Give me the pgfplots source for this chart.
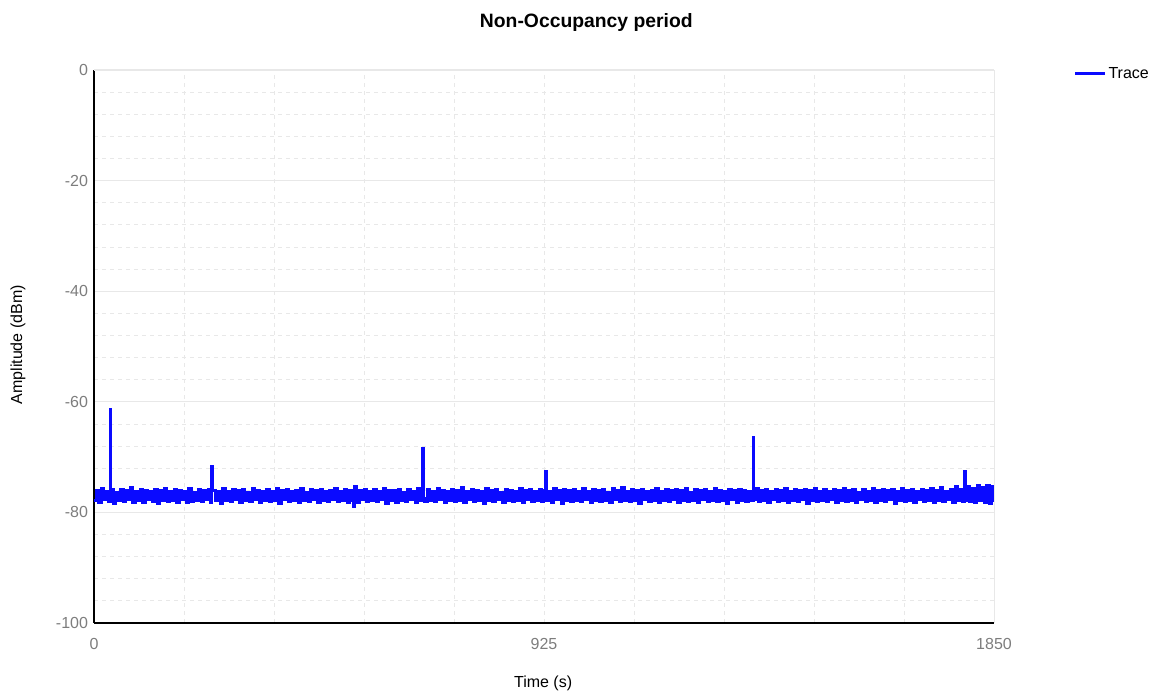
\documentclass[border=0pt]{standalone}
\usepackage{fontspec}
\setmainfont{Liberation Sans}
\usepackage{pgfplots}
\pgfplotsset{compat=1.18}
\definecolor{tickgray}{RGB}{125,125,125}
\definecolor{gridgray}{RGB}{232,232,232}
\definecolor{traceblue}{RGB}{10,10,255}
\begin{document}
\begin{tikzpicture}
\begin{axis}[
  scale only axis,
  width=675pt, height=414.75pt,
  xmin=0, xmax=1850, ymin=-100, ymax=0,
  axis lines*=left,
  axis line style={black, line width=1.1pt},
  xtick={0,925,1850},
  minor xtick={185,370,555,740,1110,1295,1480,1665},
  ytick={-100,-80,-60,-40,-20,0},
  minor y tick num=4,
  major tick length=0pt, minor tick length=0pt,
  grid=both,
  major x grid style={gridgray, dashed, line width=0.6pt},
  minor x grid style={gridgray, dashed, line width=0.6pt},
  major y grid style={gridgray, line width=0.8pt},
  minor y grid style={gridgray, dashed, line width=0.6pt},
  /pgf/number format/assume math mode=true,
  /pgf/number format/.cd, 1000 sep={}, /pgfplots/.cd,
  ticklabel style={font=\fontsize{12}{14}\selectfont, text=tickgray},
  xticklabel style={yshift=-8pt},
  yticklabel style={xshift=-1pt},
  xlabel={Time (s)}, ylabel={Amplitude (dBm)},
  every axis x label/.style={at={(rel axis cs:0.499,0)}, yshift=-45pt, anchor=center, font=\fontsize{12}{14}\selectfont},
  every axis y label/.style={at={(rel axis cs:0,0.503)}, xshift=-57pt, rotate=90, anchor=center, font=\fontsize{12}{14}\selectfont},
  legend style={at={(1.084,1.015)}, anchor=north west, draw=none, fill=none, font=\fontsize{12}{14}\selectfont},
  legend cell align=left,
  legend image code/.code={\draw[traceblue, line width=2pt] (0pt,0pt) -- (22pt,0pt);},
  clip=false,
]
\addplot[traceblue, line width=2.2pt, const plot] table[row sep=\\] {
x y\\
0 -77.9\\ 5 -76.0\\ 10 -78.2\\ 15 -75.7\\ 20 -77.7\\ 25 -76.2\\ 30 -78.0\\ 33 -61.3\\ 34 -75.9\\ 40 -78.4\\
45 -76.4\\ 50 -77.8\\ 55 -75.8\\ 60 -78.1\\ 65 -76.1\\ 70 -77.6\\ 75 -75.5\\ 80 -78.3\\ 85 -76.3\\ 90 -77.9\\
95 -75.9\\ 100 -78.2\\ 105 -76.0\\ 110 -77.7\\ 115 -76.2\\ 120 -78.0\\ 125 -75.8\\ 130 -78.4\\ 135 -76.1\\ 140 -77.8\\
145 -75.6\\ 150 -78.1\\ 155 -76.3\\ 160 -77.9\\ 165 -75.9\\ 170 -78.2\\ 175 -76.0\\ 180 -77.6\\ 185 -76.2\\ 190 -78.3\\
195 -75.7\\ 200 -78.0\\ 205 -76.4\\ 210 -77.8\\ 215 -75.9\\ 220 -78.1\\ 225 -76.1\\ 230 -77.7\\ 235 -75.8\\ 240 -78.2\\
242 -71.7\\ 243 -76.0\\ 250 -77.9\\ 255 -76.3\\ 260 -78.4\\ 265 -75.6\\ 270 -77.8\\ 275 -76.2\\ 280 -78.0\\ 285 -75.9\\
290 -77.6\\ 295 -76.1\\ 300 -78.3\\ 305 -75.8\\ 310 -77.9\\ 315 -76.4\\ 320 -78.1\\ 325 -75.7\\ 330 -77.7\\ 335 -76.0\\
340 -78.2\\ 345 -76.2\\ 350 -77.8\\ 355 -75.9\\ 360 -78.0\\ 365 -76.3\\ 370 -77.9\\ 375 -75.6\\ 380 -78.4\\ 385 -76.1\\
390 -77.7\\ 395 -75.8\\ 400 -78.1\\ 405 -76.2\\ 410 -77.8\\ 415 -76.0\\ 420 -78.3\\ 425 -75.7\\ 430 -77.9\\ 435 -76.4\\
440 -78.0\\ 445 -75.9\\ 450 -77.6\\ 455 -76.1\\ 460 -78.2\\ 465 -75.8\\ 470 -77.8\\ 475 -76.3\\ 480 -78.1\\ 485 -76.0\\
490 -77.7\\ 495 -75.6\\ 500 -78.0\\ 505 -76.2\\ 510 -77.9\\ 515 -75.9\\ 520 -78.3\\ 525 -76.1\\ 530 -77.8\\ 534 -79.0\\
535 -75.3\\ 540 -78.2\\ 545 -76.0\\ 550 -77.7\\ 555 -75.8\\ 560 -78.1\\ 565 -76.3\\ 570 -77.9\\ 575 -75.9\\ 580 -78.0\\
585 -76.2\\ 590 -77.6\\ 595 -75.7\\ 600 -78.4\\ 605 -76.1\\ 610 -77.8\\ 615 -76.0\\ 620 -78.2\\ 625 -75.8\\ 630 -77.9\\
635 -76.4\\ 640 -78.0\\ 645 -75.9\\ 650 -77.7\\ 655 -76.2\\ 660 -78.3\\ 665 -75.6\\ 670 -77.8\\ 675 -76.1\\ 676 -68.4\\
677 -77.5\\ 680 -78.1\\ 685 -75.9\\ 690 -77.9\\ 695 -76.3\\ 700 -78.0\\ 705 -75.7\\ 710 -77.6\\ 715 -76.0\\ 720 -78.2\\
725 -76.2\\ 730 -77.8\\ 735 -75.8\\ 740 -78.1\\ 745 -76.1\\ 750 -77.9\\ 755 -75.5\\ 760 -78.3\\ 765 -76.3\\ 770 -77.7\\
775 -75.9\\ 780 -78.0\\ 785 -76.0\\ 790 -77.8\\ 795 -76.2\\ 800 -78.4\\ 805 -75.7\\ 810 -77.9\\ 815 -76.1\\ 820 -78.1\\
825 -75.8\\ 830 -77.6\\ 835 -76.4\\ 840 -78.2\\ 845 -75.9\\ 850 -77.8\\ 855 -76.0\\ 860 -78.0\\ 865 -76.2\\ 870 -77.9\\
875 -75.6\\ 880 -78.3\\ 885 -76.1\\ 890 -77.7\\ 895 -75.8\\ 900 -78.1\\ 905 -76.3\\ 910 -77.8\\ 915 -75.9\\ 920 -78.0\\
925 -76.0\\ 929 -72.6\\ 930 -77.9\\ 935 -76.2\\ 940 -78.2\\ 945 -75.7\\ 950 -77.6\\ 955 -76.1\\ 960 -78.4\\ 965 -75.8\\
970 -77.8\\ 975 -76.0\\ 980 -78.1\\ 985 -75.9\\ 990 -77.9\\ 995 -76.3\\ 1000 -78.0\\ 1005 -75.6\\ 1010 -77.7\\ 1015 -76.2\\
1020 -78.3\\ 1025 -75.8\\ 1030 -77.9\\ 1035 -76.1\\ 1040 -78.1\\ 1045 -75.9\\ 1050 -77.8\\ 1055 -76.4\\ 1060 -78.2\\ 1065 -75.7\\
1070 -77.6\\ 1075 -76.0\\ 1080 -78.0\\ 1085 -75.5\\ 1090 -77.9\\ 1095 -76.2\\ 1100 -78.1\\ 1105 -75.8\\ 1110 -77.8\\ 1115 -76.1\\
1120 -78.4\\ 1125 -75.9\\ 1130 -77.7\\ 1135 -76.3\\ 1140 -78.0\\ 1145 -76.0\\ 1150 -77.9\\ 1155 -75.7\\ 1160 -78.2\\ 1165 -76.2\\
1170 -77.8\\ 1175 -75.8\\ 1180 -78.1\\ 1185 -76.1\\ 1190 -77.6\\ 1195 -75.9\\ 1200 -78.3\\ 1205 -76.0\\ 1210 -77.9\\ 1215 -75.6\\
1220 -78.0\\ 1225 -76.4\\ 1230 -77.8\\ 1235 -75.8\\ 1240 -78.2\\ 1245 -76.1\\ 1250 -77.7\\ 1255 -75.9\\ 1260 -78.1\\ 1265 -76.2\\
1270 -77.9\\ 1275 -75.7\\ 1280 -78.0\\ 1285 -76.0\\ 1290 -77.8\\ 1295 -76.3\\ 1300 -78.4\\ 1305 -75.8\\ 1310 -77.6\\ 1315 -76.1\\
1320 -78.2\\ 1325 -75.9\\ 1330 -77.9\\ 1335 -76.0\\ 1340 -78.1\\ 1345 -76.2\\ 1350 -77.8\\ 1355 -66.4\\ 1356 -77.7\\ 1360 -75.7\\
1365 -78.0\\ 1370 -76.1\\ 1375 -77.9\\ 1380 -75.8\\ 1385 -78.3\\ 1390 -76.3\\ 1395 -77.7\\ 1400 -75.9\\ 1405 -78.1\\ 1410 -76.0\\
1415 -77.8\\ 1420 -75.6\\ 1425 -78.2\\ 1430 -76.2\\ 1435 -77.9\\ 1440 -75.8\\ 1445 -78.0\\ 1450 -76.1\\ 1455 -77.6\\ 1460 -75.9\\
1465 -78.4\\ 1470 -76.0\\ 1475 -77.8\\ 1480 -75.7\\ 1485 -78.1\\ 1490 -76.3\\ 1495 -77.9\\ 1500 -75.8\\ 1505 -78.0\\ 1510 -76.2\\
1515 -77.7\\ 1520 -75.9\\ 1525 -78.2\\ 1530 -76.1\\ 1535 -77.8\\ 1540 -75.6\\ 1545 -78.1\\ 1550 -76.0\\ 1555 -77.9\\ 1560 -75.8\\
1565 -78.3\\ 1570 -76.4\\ 1575 -77.6\\ 1580 -75.9\\ 1585 -78.0\\ 1590 -76.2\\ 1595 -77.8\\ 1600 -75.7\\ 1605 -78.2\\ 1610 -76.1\\
1615 -77.9\\ 1620 -75.8\\ 1625 -78.1\\ 1630 -76.0\\ 1635 -77.7\\ 1640 -75.9\\ 1645 -78.4\\ 1650 -76.3\\ 1655 -77.8\\ 1660 -75.6\\
1665 -78.0\\ 1670 -76.1\\ 1675 -77.9\\ 1680 -75.8\\ 1685 -78.2\\ 1690 -76.2\\ 1695 -77.6\\ 1700 -75.9\\ 1705 -78.1\\ 1710 -76.0\\
1715 -77.8\\ 1720 -75.7\\ 1725 -78.3\\ 1730 -76.1\\ 1735 -77.9\\ 1740 -75.5\\ 1745 -78.0\\ 1750 -76.2\\ 1755 -77.7\\ 1760 -75.8\\
1765 -78.2\\ 1770 -75.4\\ 1775 -77.9\\ 1780 -75.9\\ 1785 -78.1\\ 1790 -72.6\\ 1791 -77.8\\ 1795 -75.3\\ 1800 -78.0\\ 1805 -75.6\\
1810 -78.3\\ 1815 -75.2\\ 1820 -77.9\\ 1825 -75.5\\ 1830 -78.2\\ 1835 -75.1\\ 1840 -78.4\\ 1845 -75.4\\ 1850 -78.1\\
};
\addlegendentry{Trace}
\draw[gridgray, line width=0.6pt] (rel axis cs:0,1) -- (rel axis cs:1,1) -- (rel axis cs:1,0);
\node[font=\bfseries\fontsize{14.5}{16}\selectfont] at (rel axis cs:0.547,1) [yshift=35.5pt] {Non-Occupancy period};
\coordinate (sw) at (rel axis cs:0,0);
\coordinate (ne) at (rel axis cs:1,1);
\end{axis}
\pgfresetboundingbox
\path ([shift={(-70.5pt,-54pt)}]sw) rectangle ([shift={(132pt,52.5pt)}]ne);
\end{tikzpicture}
\end{document}
